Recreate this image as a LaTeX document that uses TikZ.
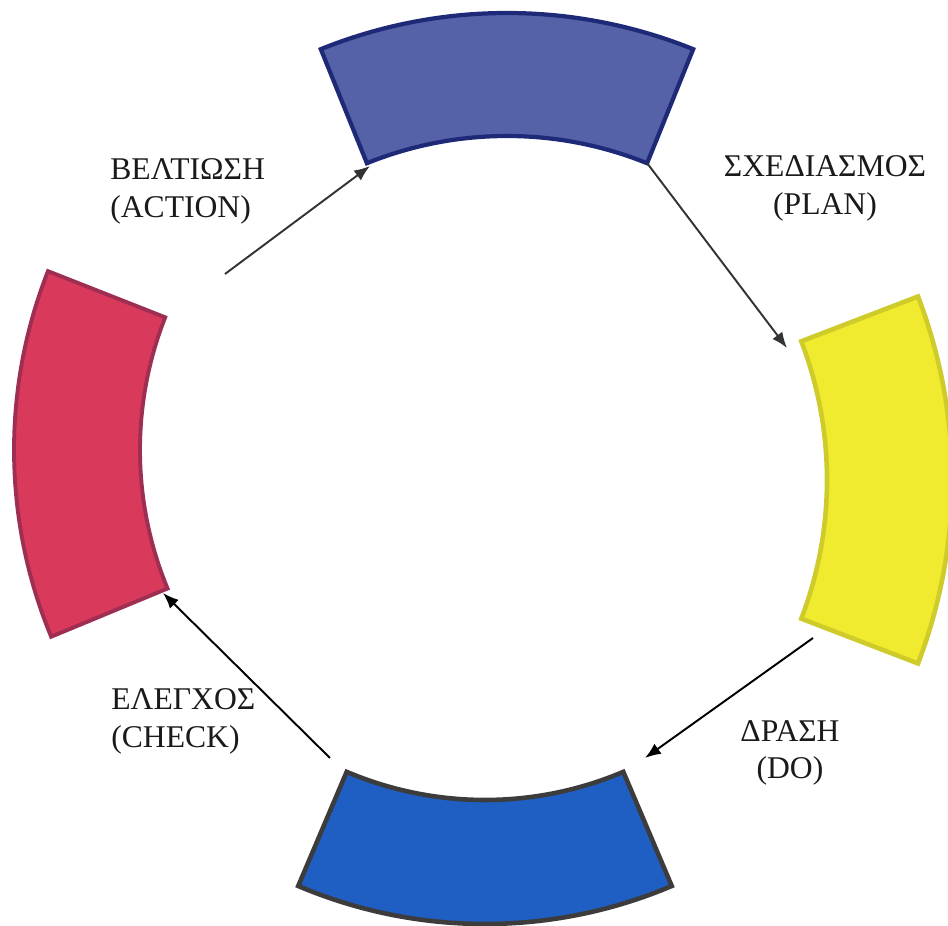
\documentclass[tikz,border=0pt]{standalone}
\usepackage{fontspec}
\setmainfont{Liberation Serif}
\usetikzlibrary{arrows.meta}
\definecolor{planfill}{HTML}{5562A8}
\definecolor{planline}{HTML}{1E2A78}
\definecolor{dofill}{HTML}{F0EB2E}
\definecolor{doline}{HTML}{CFCB2A}
\definecolor{checkfill}{HTML}{1F5FC4}
\definecolor{checkline}{HTML}{3C3C3C}
\definecolor{actfill}{HTML}{D9395A}
\definecolor{actline}{HTML}{9E2F52}
\definecolor{txt}{HTML}{1A1A1A}
\newcommand\ringsector[7]{%
  \draw[#7, shift={(#1,#2)}] (#3:#6) arc[start angle=#3, end angle=#4, radius=#6]
    -- (#4:#5) arc[start angle=#4, end angle=#3, radius=#5] -- cycle;}
\begin{document}
\begin{tikzpicture}[x=0.02cm,y=0.02cm,
  sectorA/.style={fill=planfill, draw=planline, line width=2.4pt, line join=miter},
  sectorB/.style={fill=dofill, draw=doline, line width=2.6pt, line join=miter},
  sectorC/.style={fill=checkfill, draw=checkline, line width=2.6pt, line join=miter},
  sectorD/.style={fill=actfill, draw=actline, line width=2.2pt, line join=miter},
  flow/.style={line width=1.1pt, -{Latex[length=9pt,width=7pt]}},
  lbl/.style={inner sep=0pt, text=txt, font=\fontsize{18}{21.5}\selectfont}]
\useasboundingbox (0,0) rectangle (948,926);
\fill[white] (0,0) rectangle (948,926);
% sectors
\ringsector{507}{416}{68}{112}{374}{497}{sectorA}
\ringsector{440}{446}{-21}{21}{387}{512}{sectorB}
\ringsector{485}{480}{-113}{-67}{354}{478}{sectorC}
\ringsector{502}{476}{158.5}{202.5}{362}{488}{sectorD}
% connector ends
\coordinate (planS) at (647,763);
\coordinate (planE) at (787,578);
\coordinate (doS) at (813,288);
\coordinate (doE) at (645,168);
\coordinate (checkS) at (330,168);
\coordinate (checkE) at (163,333);
\coordinate (actS) at (225,652);
\coordinate (actE) at (370,760);
% connectors
\draw[flow, draw=black!80] (planS) -- (planE);
\draw[flow, draw=black] (doS) -- (doE);
\draw[flow, draw=black] (checkS) -- (checkE);
\draw[flow, draw=black!80] (actS) -- (actE);
% labels
\node[lbl, anchor=north west, align=left] (act) at (110,768) {ΒΕΛΤΙΩΣΗ\\(ACTION)};
\node[lbl, anchor=north, align=center] (plan) at (825,771) {ΣΧΕΔΙΑΣΜΟΣ\\(PLAN)};
\node[lbl, anchor=north west, align=left] (check) at (111,238) {ΕΛΕΓΧΟΣ\\(CHECK)};
\node[lbl, anchor=north, align=center] (do) at (790,206) {ΔΡΑΣΗ\\(DO)};
\end{tikzpicture}
\end{document}
